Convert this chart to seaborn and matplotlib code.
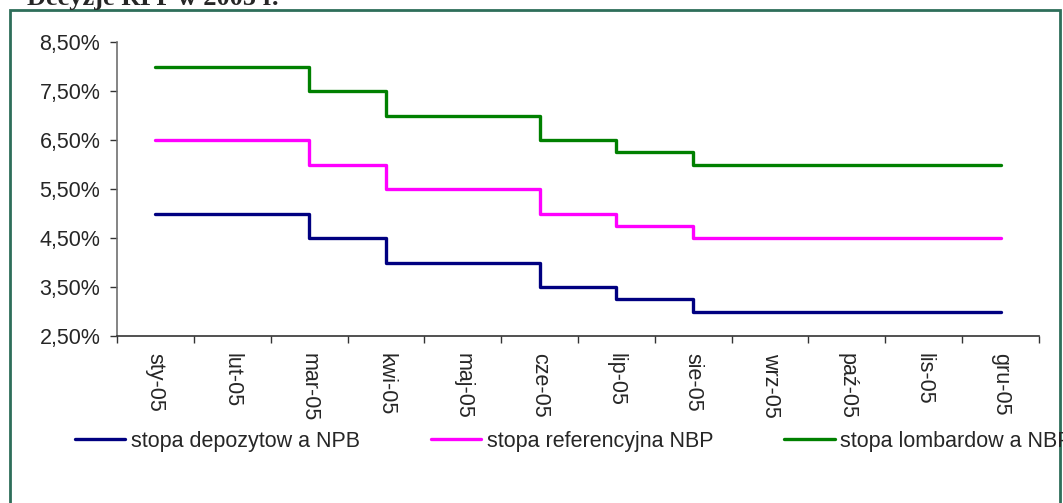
import pandas as pd
import numpy as np
import matplotlib.pyplot as plt
import seaborn as sns
from matplotlib.patches import Rectangle
from matplotlib.ticker import FuncFormatter, FixedLocator
from matplotlib.lines import Line2D

months = ["sty-05", "lut-05", "mar-05", "kwi-05", "maj-05", "cze-05",
          "lip-05", "sie-05", "wrz-05", "paź-05", "lis-05", "gru-05"]
depozytowa = [5.0, 5.0, 4.5, 4.0, 4.0, 3.5, 3.25, 3.0, 3.0, 3.0, 3.0, 3.0]
referencyjna = [6.5, 6.5, 6.0, 5.5, 5.5, 5.0, 4.75, 4.5, 4.5, 4.5, 4.5, 4.5]
lombardowa = [8.0, 8.0, 7.5, 7.0, 7.0, 6.5, 6.25, 6.0, 6.0, 6.0, 6.0, 6.0]
series_names = ["stopa depozytow a NPB", "stopa referencyjna NBP", "stopa lombardow a NBP"]
colors = ["#000080", "#FF00FF", "#008000"]
y_ticks = [2.5, 3.5, 4.5, 5.5, 6.5, 7.5, 8.5]

frames = []
for name, vals in zip(series_names, [depozytowa, referencyjna, lombardowa]):
    frames.append(pd.DataFrame({"idx": np.arange(len(months)), "rate": vals, "series": name}))
df = pd.concat(frames, ignore_index=True)

sns.set_style("white")
plt.rcParams["font.family"] = ["Liberation Sans", "DejaVu Sans"]

FS = 15.5
W, H = 1063, 503
fig = plt.figure(figsize=(W / 100, H / 100), dpi=100)
ax = fig.add_axes([117 / W, 1 - 336 / H, (1039 - 117) / W, (336 - 42) / H])

sns.lineplot(data=df, x="idx", y="rate", hue="series", palette=colors,
             drawstyle="steps-post", linewidth=2.4, ax=ax, legend=False,
             solid_capstyle="round")

ax.set_xlim(-0.5, len(months) - 0.5)
ax.set_ylim(2.5, 8.5)
ax.set_xlabel("")
ax.set_ylabel("")

ax.set_yticks(y_ticks)
ax.yaxis.set_major_formatter(FuncFormatter(lambda v, p: f"{v:.2f}%".replace(".", ",")))
ax.set_xticks(np.arange(len(months)))
ax.set_xticklabels(months, rotation=270, fontsize=FS)
ax.xaxis.set_minor_locator(FixedLocator(np.arange(-0.5, len(months), 1.0)))
ax.tick_params(axis="x", which="major", length=0, pad=12)
ax.tick_params(axis="x", which="minor", length=5, width=1, color="#333333", direction="out")
ax.tick_params(axis="y", labelsize=FS, length=5, width=1, color="#333333", direction="out", pad=7)
ax.tick_params(bottom=True, left=True, which="both")

for side in ["top", "right"]:
    ax.spines[side].set_visible(False)
ax.spines["left"].set_color("#707070")
ax.spines["bottom"].set_color("#333333")
ax.spines["left"].set_linewidth(1.2)
ax.spines["bottom"].set_linewidth(1.2)

# outer chart frame (bottom edge falls outside the image)
fig.patches.append(Rectangle((10 / W, -0.1), (1060 - 10) / W, 1.1 - 10 / H,
                             transform=fig.transFigure, fill=False,
                             edgecolor="#2E6E5A", linewidth=2, zorder=0))

fig.text(27 / W, 1 - 5 / H, "Decyzje RPP w 2005 r.", fontsize=19, fontweight="bold",
         family=["Liberation Serif", "DejaVu Serif"], va="baseline", ha="left")

handles = [Line2D([], [], color=c, linewidth=2.4) for c in colors]
fig.legend(handles, series_names, loc="center left", bbox_to_anchor=(66 / W, 1 - 441 / H),
           ncol=3, frameon=False, fontsize=FS, handlelength=2.35, handletextpad=0.25,
           columnspacing=3.3, borderaxespad=0)

plt.savefig("out.png", dpi=100)
